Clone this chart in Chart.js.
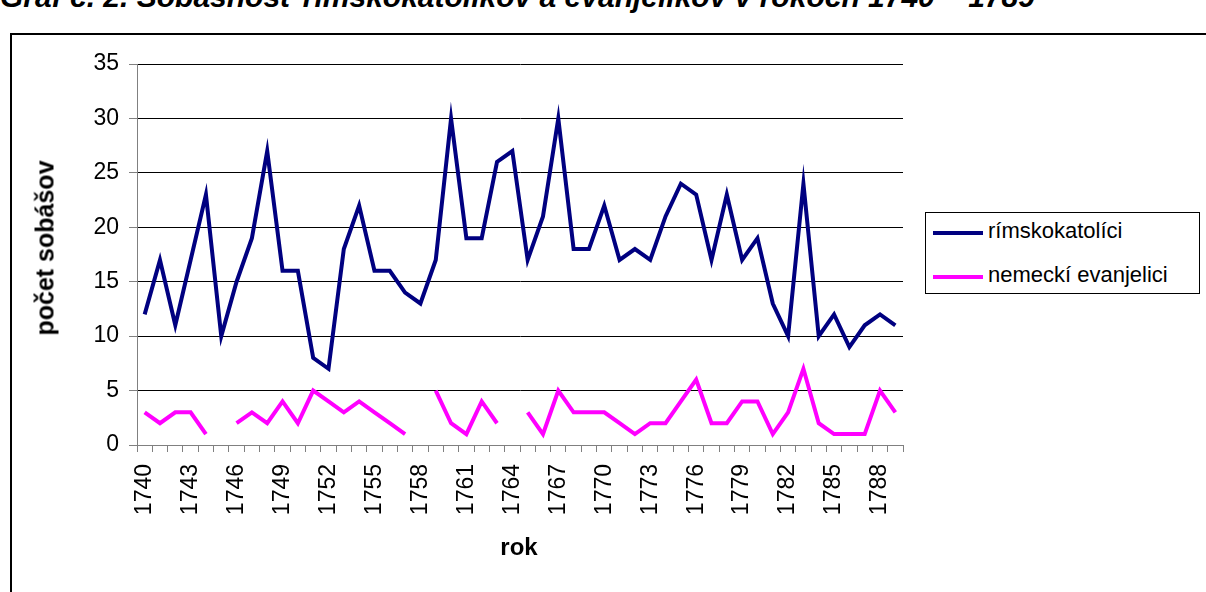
<!DOCTYPE html>
<html>
<head>
<meta charset="utf-8">
<script src="https://cdn.jsdelivr.net/npm/chart.js@4.4.0/dist/chart.umd.min.js"></script>
<style>
  html, body { margin: 0; padding: 0; background: #fff; overflow: hidden; }
  #wrap { position: relative; width: 1206px; height: 592px; font-family: 'Liberation Sans', Arial, sans-serif; }
  #frame { position: absolute; left: 10px; top: 33px; width: 1300px; height: 700px; border: 2px solid #000; box-sizing: border-box; }
  #title { position: absolute; left: 0; top: -20px; font-size: 30px; font-weight: bold; font-style: italic; white-space: nowrap; }
  #chart { position: absolute; left: 0; top: 0; }
  .axtitle { position: absolute; font-weight: bold; white-space: nowrap; }
  #ytitle { left: 45px; top: 248px; font-size: 25px; transform: translate(-50%, -50%) rotate(-90deg); }
  #xtitle { left: 519px; top: 547px; font-size: 24px; transform: translate(-50%, -50%); }
  #legend { position: absolute; left: 925px; top: 212px; width: 275px; height: 82px; border: 1px solid #000; box-sizing: border-box; background: #fff; }
  .item { position: absolute; left: 0; height: 25px; font-size: 22px; white-space: nowrap; }
  .item i { position: absolute; left: 7px; top: 10px; width: 50px; height: 4px; }
  .item span { position: absolute; left: 62px; top: -3px; }
</style>
</head>
<body>
<div id="wrap">
  <div id="frame"></div>
  <div id="title">Graf č. 2. Sobášnosť rímskokatolíkov a evanjelikov v rokoch 1740 – 1789</div>
  <canvas id="chart" width="1206" height="592"></canvas>
  <div id="ytitle" class="axtitle">počet sobášov</div>
  <div id="xtitle" class="axtitle">rok</div>
  <div id="legend"></div>
</div>
<script>
// Data
const years = [];
for (let y = 1740; y <= 1789; y++) years.push(String(y));

const catholics = [12, 17, 11, 17, 23, 10, 15, 19, 27, 16,
                   16, 8, 7, 18, 22, 16, 16, 14, 13, 17,
                   30, 19, 19, 26, 27, 17, 21, 30, 18, 18,
                   22, 17, 18, 17, 21, 24, 23, 17, 23, 17,
                   19, 13, 10, 24, 10, 12, 9, 11, 12, 11];

const evangelicals = [3, 2, 3, 3, 1, null, 2, 3, 2, 4,
                      2, 5, 4, 3, 4, 3, 2, 1, null, 5,
                      2, 1, 4, 2, null, 3, 1, 5, 3, 3,
                      3, 2, 1, 2, 2, 4, 6, 2, 2, 4,
                      4, 1, 3, 7, 2, 1, 1, 1, 5, 3];

const seriesNames = ['rímskokatolíci', 'nemeckí evanjelici'];
const seriesColors = ['#000080', '#ff00ff'];
const yTicks = [0, 5, 10, 15, 20, 25, 30, 35];

const font = { family: "'Liberation Sans', Arial, sans-serif", size: 23 };

new Chart(document.getElementById('chart'), {
    type: 'line',
    data: {
        labels: years,
        datasets: [
            { label: seriesNames[0], data: catholics, borderColor: seriesColors[0], borderWidth: 4, pointRadius: 0, tension: 0, spanGaps: false },
            { label: seriesNames[1], data: evangelicals, borderColor: seriesColors[1], borderWidth: 4, pointRadius: 0, tension: 0, spanGaps: false }
        ]
    },
    options: {
        responsive: false,
        animation: false,
        layout: { padding: { left: 0, top: 64, right: 303, bottom: 0 } },
        plugins: { legend: { display: false }, tooltip: { enabled: false } },
        scales: {
            x: {
                offset: true,
                afterFit: s => { s.height = 147; },
                grid: { drawOnChartArea: false, drawTicks: true, tickLength: 7, color: '#808080', offset: true },
                border: { color: '#808080', width: 1 },
                ticks: {
                    autoSkip: false, minRotation: 90, maxRotation: 90, padding: 12,
                    color: '#000', font: font,
                    callback: (v, i) => (i % 3 === 0 ? years[i] : '')
                }
            },
            y: {
                min: 0, max: 35,
                afterFit: s => { s.width = 137; },
                afterBuildTicks: s => { s.ticks = yTicks.map(v => ({ value: v })); },
                grid: { color: '#000', lineWidth: 1, tickLength: 8, tickColor: '#808080' },
                border: { color: '#808080', width: 1 },
                ticks: { color: '#000', font: font, padding: 10 }
            }
        }
    }
});

// legend box
const legend = document.getElementById('legend');
seriesNames.forEach((name, i) => {
    const d = document.createElement('div');
    d.className = 'item';
    d.style.top = (8 + i * 44) + 'px';
    d.innerHTML = `<i style="background:${seriesColors[i]}"></i><span>${name}</span>`;
    legend.appendChild(d);
});
</script>
</body>
</html>
